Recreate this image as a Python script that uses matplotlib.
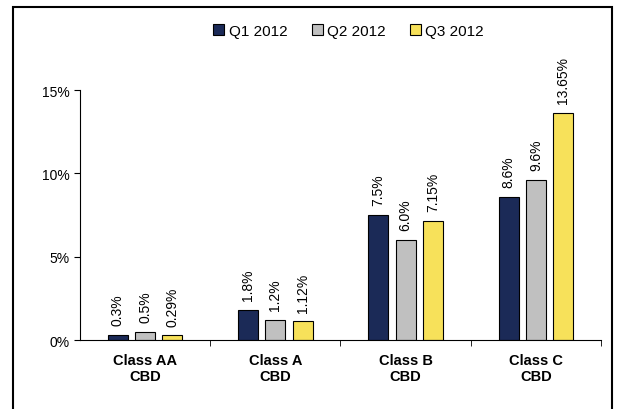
import numpy as np
import matplotlib.pyplot as plt
from matplotlib.patches import Rectangle

plt.rcParams['font.family'] = ['Liberation Sans', 'DejaVu Sans']

# Data
categories = ['Class AA\nCBD', 'Class A\nCBD', 'Class B\nCBD', 'Class C\nCBD']
series = ['Q1 2012', 'Q2 2012', 'Q3 2012']
q1 = [0.3, 1.8, 7.5, 8.6]
q2 = [0.5, 1.2, 6.0, 9.6]
q3 = [0.29, 1.12, 7.15, 13.65]
q1_labels = ['0.3%', '1.8%', '7.5%', '8.6%']
q2_labels = ['0.5%', '1.2%', '6.0%', '9.6%']
q3_labels = ['0.29%', '1.12%', '7.15%', '13.65%']
colors = ['#1b2a57', '#c0c0c0', '#f7e15a']

fig = plt.figure(figsize=(6.19, 4.10), dpi=100)
ax = fig.add_axes([0.129, 0.168, 0.842, 0.610])

x = np.arange(len(categories))
bar_width = 0.154
step = 0.21

for i, (vals, labs) in enumerate(zip([q1, q2, q3], [q1_labels, q2_labels, q3_labels])):
    pos = x + (i - 1) * step
    ax.bar(pos, vals, width=bar_width, color=colors[i], edgecolor='black',
           linewidth=0.8, label=series[i])
    for p, v, t in zip(pos, vals, labs):
        ax.annotate(t, (p, v), xytext=(0, 7), textcoords='offset points',
                    rotation=90, ha='center', va='bottom', fontsize=10)

ax.set_xlim(-0.5, len(categories) - 0.5)
ax.set_ylim(0, 15)
ax.set_yticks([0, 5, 10, 15])
ax.set_yticklabels(['0%', '5%', '10%', '15%'], fontsize=10)
ax.set_xticks(x)
ax.set_xticklabels(categories, fontsize=10.5, fontweight='bold')
ax.tick_params(axis='x', length=0, pad=9)
ax.set_xticks(x + 0.5, minor=True)
ax.tick_params(axis='x', which='minor', length=4, direction='out')
ax.tick_params(axis='y', length=4, direction='out')
ax.spines['top'].set_visible(False)
ax.spines['right'].set_visible(False)

ax.legend(loc='center', bbox_to_anchor=(0.516, 1.236), ncol=3, frameon=False,
          fontsize=11, handlelength=0.7, handleheight=0.7, columnspacing=1.6,
          handletextpad=0.3)

fig.patches.append(Rectangle((13 / 619, -0.05), 599 / 619, 1 - 8 / 410 + 0.05,
                             transform=fig.transFigure, fill=False,
                             edgecolor='black', linewidth=1.5))

fig.savefig('out.png', dpi=100)
